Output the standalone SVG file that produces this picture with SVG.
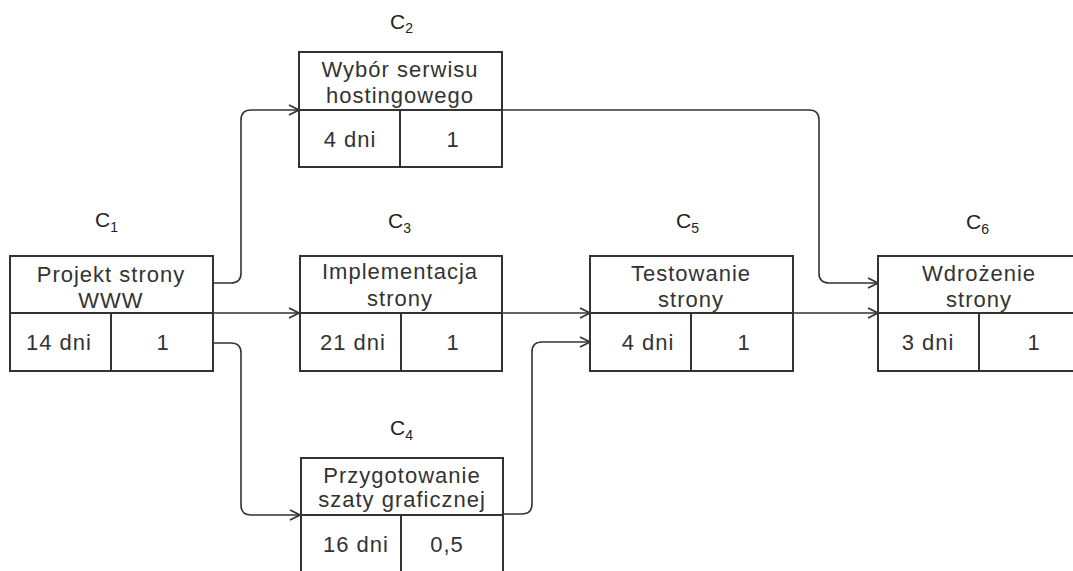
<svg xmlns="http://www.w3.org/2000/svg" width="1073" height="571" viewBox="0 0 1073 571">
<style>
.box{fill:none;stroke:#333;stroke-width:2}
.t{font-family:"Liberation Sans",Arial,sans-serif;font-size:22px;letter-spacing:1px;fill:#333;text-anchor:middle}
.c{font-family:"Liberation Sans",Arial,sans-serif;font-size:21px;fill:#222}
.s{font-size:14px}
.conn{fill:none;stroke:#333;stroke-width:1.6}
</style>
<defs>
<marker id="arr" viewBox="0 0 12 12" refX="11" refY="6" markerWidth="12" markerHeight="12" markerUnits="userSpaceOnUse" orient="auto">
<path d="M1,1 L11,6 L1,11" fill="none" stroke="#333" stroke-width="1.8"/>
</marker>
</defs>
<rect width="1073" height="571" fill="#fff"/>
<g id="connectors">
<path class="conn" marker-end="url(#arr)" d="M213,283 H231 Q241,283 241,273 V120 Q241,110 251,110 H299"/>
<path class="conn" marker-end="url(#arr)" d="M213,313 H299"/>
<path class="conn" marker-end="url(#arr)" d="M213,343 H231 Q241,343 241,353 V505 Q241,515 251,515 H300"/>
<path class="conn" marker-end="url(#arr)" d="M502,110 H809 Q819,110 819,120 V273 Q819,283 829,283 H878"/>
<path class="conn" marker-end="url(#arr)" d="M502,313 H590"/>
<path class="conn" marker-end="url(#arr)" d="M503,514 H522 Q532,514 532,504 V352 Q532,342 542,342 H590"/>
<path class="conn" marker-end="url(#arr)" d="M793,313 H878"/>
</g>
<g id="c1">
<rect class="box" x="10" y="256" width="203" height="115"/>
<path class="box" d="M10,313 H213 M111,313 V371"/>
<text class="c" x="95" y="227">C<tspan class="s" dy="5">1</tspan></text>
<text class="t" x="111" y="282">Projekt strony</text>
<text class="t" x="111" y="308">WWW</text>
<text class="t" x="59" y="350">14 dni</text>
<text class="t" x="163" y="350">1</text>
</g>
<g id="c2">
<rect class="box" x="299" y="52" width="203" height="115"/>
<path class="box" d="M299,110 H502 M400,110 V167"/>
<text class="c" x="390" y="29">C<tspan class="s" dy="4">2</tspan></text>
<text class="t" x="400" y="77">Wybór serwisu</text>
<text class="t" x="400" y="103">hostingowego</text>
<text class="t" x="350" y="147">4 dni</text>
<text class="t" x="453" y="147">1</text>
</g>
<g id="c3">
<rect class="box" x="300" y="256" width="202" height="115"/>
<path class="box" d="M300,313 H502 M401,313 V371"/>
<text class="c" x="388" y="228">C<tspan class="s" dy="5">3</tspan></text>
<text class="t" x="400" y="279">Implementacja</text>
<text class="t" x="400" y="306">strony</text>
<text class="t" x="353" y="350">21 dni</text>
<text class="t" x="453" y="350">1</text>
</g>
<g id="c4">
<rect class="box" x="301" y="458" width="202" height="130"/>
<path class="box" d="M301,515 H503 M401,515 V590"/>
<text class="c" x="390" y="435">C<tspan class="s" dy="5">4</tspan></text>
<text class="t" x="402" y="483">Przygotowanie</text>
<text class="t" x="402" y="507">szaty graficznej</text>
<text class="t" x="356" y="552">16 dni</text>
<text class="t" x="447" y="552">0,5</text>
</g>
<g id="c5">
<rect class="box" x="590" y="256" width="203" height="115"/>
<path class="box" d="M590,313 H793 M691,313 V371"/>
<text class="c" x="676" y="228">C<tspan class="s" dy="5">5</tspan></text>
<text class="t" x="691" y="281">Testowanie</text>
<text class="t" x="691" y="307">strony</text>
<text class="t" x="648" y="350">4 dni</text>
<text class="t" x="744" y="350">1</text>
</g>
<g id="c6">
<rect class="box" x="878" y="256" width="203" height="115"/>
<path class="box" d="M878,313 H1081 M979,313 V371"/>
<text class="c" x="966" y="229">C<tspan class="s" dy="5">6</tspan></text>
<text class="t" x="979" y="281">Wdrożenie</text>
<text class="t" x="979" y="307">strony</text>
<text class="t" x="928" y="350">3 dni</text>
<text class="t" x="1034" y="350">1</text>
</g>
</svg>
